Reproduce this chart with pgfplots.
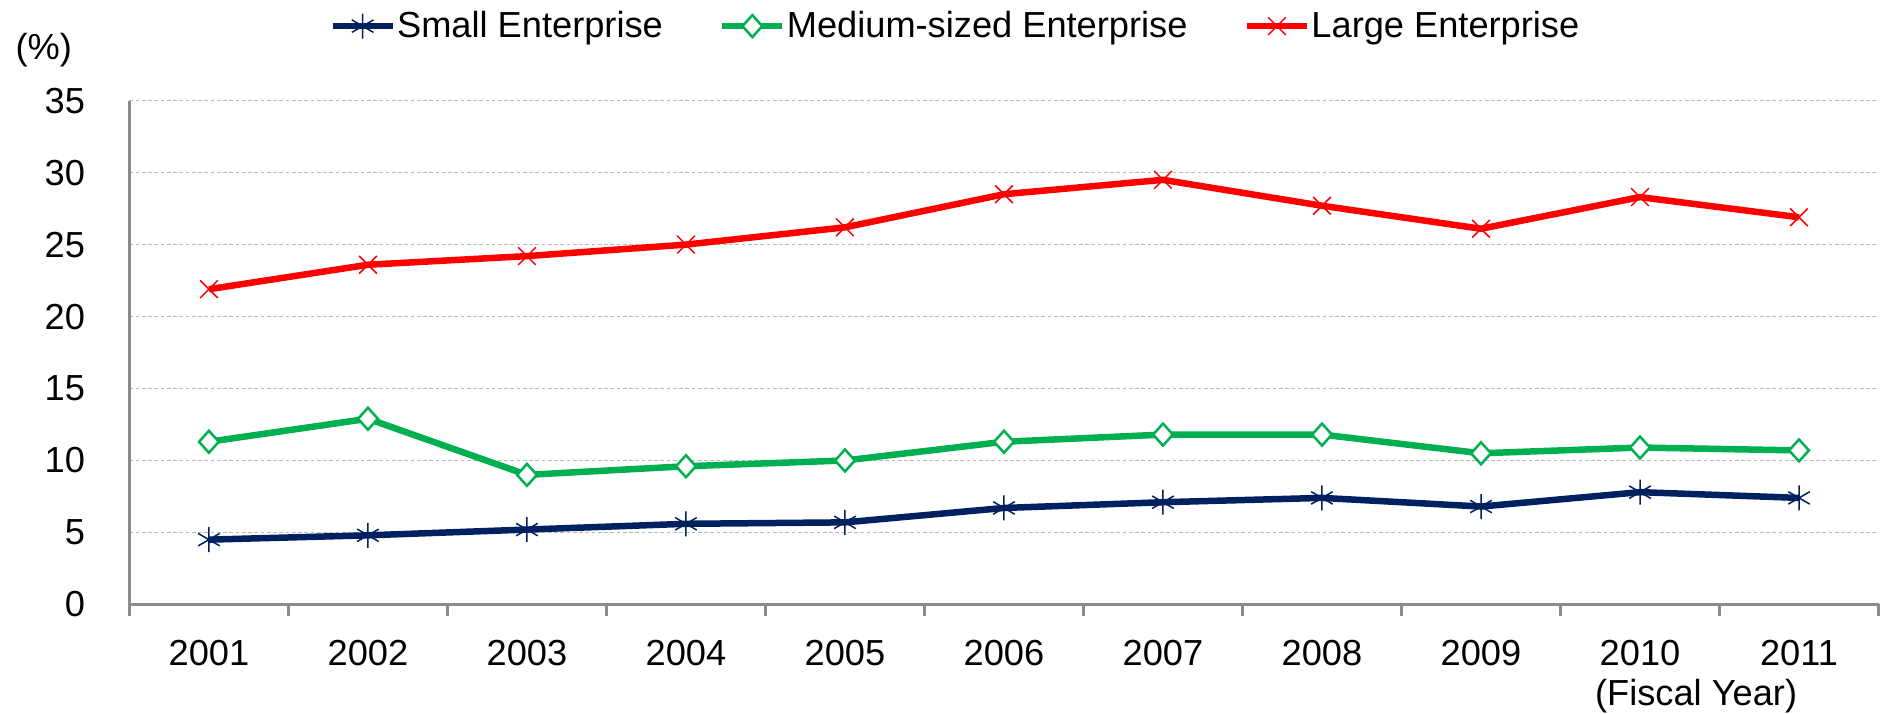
\documentclass[border=0pt]{standalone}
\usepackage{pgfplots}
\pgfplotsset{compat=1.18}
\usepackage{fontspec}
\setmainfont{Liberation Sans}
\definecolor{navy}{HTML}{002060}
\definecolor{mgreen}{HTML}{00B050}
\definecolor{axgray}{HTML}{8C8C8C}
\begin{document}
\begin{tikzpicture}
\begin{axis}[
  scale only axis,
  width=700pt, height=201.6pt,
  xmin=-0.5, xmax=10.5, ymin=0, ymax=35,
  axis x line*=bottom, axis y line*=left,
  axis line style={axgray, line width=1.2pt, -},
  xtick={0,...,10},
  xticklabels={2001,2002,2003,2004,2005,2006,2007,2008,2009,2010,2011},
  major x tick style={draw=none},
  minor xtick={-0.5,0.5,...,10.5},
  minor x tick style={axgray, line width=1pt},
  minor tick length=4.5pt,
  tick align=outside,
  ytick={0,5,...,35},
  major y tick style={draw=none},
  ymajorgrids,
  grid style={gray!55, dash pattern=on 1.5pt off 1pt, line width=0.5pt},
  /pgf/number format/assume math mode=true,
  tick label style={font=\fontsize{14.5}{16}\selectfont},
  yticklabel style={xshift=-10pt},
  xticklabel style={yshift=-6.5pt},
  clip=false,
  legend columns=3,
  legend style={draw=none, fill=none, at={(rel axis cs:0.472,1.148)}, anchor=center,
    font=\fontsize{14.5}{16}\selectfont,
    /tikz/every even column/.append style={column sep=22pt},
    nodes={inner sep=0.5pt}},
  legend image code/.code={\draw[mark repeat=2, mark phase=2] plot coordinates {(-2pt,0pt) (10pt,0pt) (22pt,0pt)};},
]
\path (rel axis cs:-0.074,-0.2168) rectangle (rel axis cs:1,1.1999);
\addplot[navy, line width=2.6pt, mark=asterisk, mark size=5pt, mark options={line width=0.6pt}]
  coordinates {(0,4.5) (1,4.8) (2,5.2) (3,5.6) (4,5.7) (5,6.7) (6,7.1) (7,7.4) (8,6.8) (9,7.8) (10,7.4)};
\addlegendentry{Small Enterprise}
\addplot[mgreen, line width=2.6pt, mark=diamond*, mark size=4.4pt, mark options={fill=white, line width=1pt, xscale=1.2}]
  coordinates {(0,11.3) (1,12.9) (2,9.0) (3,9.6) (4,10.0) (5,11.3) (6,11.8) (7,11.8) (8,10.5) (9,10.9) (10,10.7)};
\addlegendentry{Medium-sized Enterprise}
\addplot[red, line width=2.6pt, mark=x, mark size=5pt, mark options={line width=0.6pt}]
  coordinates {(0,21.9) (1,23.6) (2,24.2) (3,25.0) (4,26.2) (5,28.5) (6,29.5) (7,27.7) (8,26.1) (9,28.3) (10,26.9)};
\addlegendentry{Large Enterprise}
\node[font=\fontsize{14.5}{16}\selectfont] at (rel axis cs:-0.049,1.1) {(\%)};
\node[font=\fontsize{14.5}{16}\selectfont, inner sep=0pt, anchor=base] at (rel axis cs:0.8957,-0.2) {(Fiscal Year)};
\end{axis}
\end{tikzpicture}
\end{document}
